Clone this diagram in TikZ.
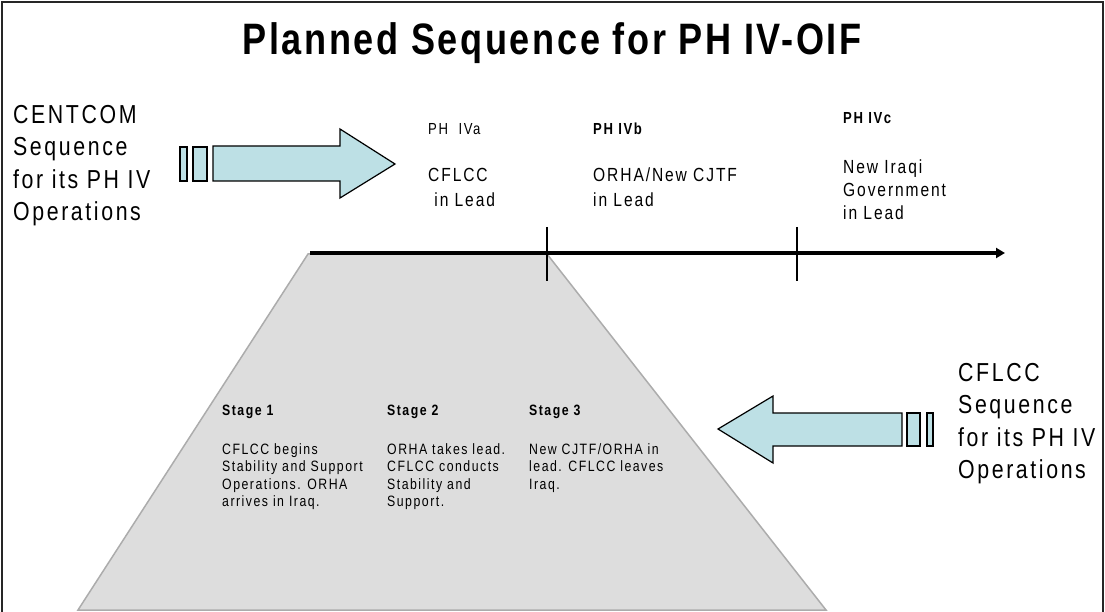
\documentclass[tikz,border=0pt]{standalone}
\usepackage{fontspec}
\usepackage{tikz}
\usetikzlibrary{arrows.meta, positioning}
\newfontfamily\narrowsf{Liberation Sans}[FakeStretch=0.82, LetterSpace=10]
\newfontfamily\titlesf{Liberation Sans}[FakeStretch=0.82, LetterSpace=6]
\definecolor{flowcolor}{RGB}{189,224,229}
\definecolor{stagecolor}{RGB}{221,221,221}
\definecolor{stageedge}{RGB}{172,172,172}

\begin{document}
\begin{tikzpicture}[
    x=1bp, y=-1bp,
    title/.style={inner sep=0pt, font=\titlesf\bfseries\fontsize{44bp}{50bp}\selectfont},
    side/.style={inner sep=0pt, anchor=north west, align=left, font=\narrowsf\fontsize{26bp}{32.5bp}\selectfont},
    phase/.style={inner sep=0pt, anchor=north west, align=left, font=\narrowsf\fontsize{16bp}{20bp}\selectfont},
    lead/.style={inner sep=0pt, anchor=north west, align=left, font=\narrowsf\fontsize{19bp}{25bp}\selectfont},
    stage/.style={inner sep=0pt, anchor=north west, align=left, font=\narrowsf\fontsize{15bp}{17.5bp}\selectfont},
    flow/.style={draw=black, line width=1.2bp, fill=flowcolor},
    timeline/.style={line width=3.5bp, -{Triangle[length=9bp, width=10bp]}},
    tick/.style={line width=1.4bp}
]
    \useasboundingbox (0,0) rectangle (1105,612);
    \draw[line width=2bp, black!85] (2,612) -- (2,2) -- (1103,2) -- (1103,612);

    \node[title] (head) at (552,43) {Planned Sequence for PH IV-OIF};

    % stage trapezoid
    \draw[stageedge, line width=1.5bp, fill=stagecolor] (308,254) -- (547,254) -- (826,610) -- (78,610) -- cycle;

    % timeline
    \coordinate (t0) at (310,253);
    \coordinate (t1) at (1005,253);
    \draw[timeline] (t0) -- (t1);
    \draw[tick] (547,227) -- (547,281);
    \draw[tick] (797,227) -- (797,281);

    % CENTCOM arrow
    \node[side] (centcom) at (13,105) {CENTCOM\\Sequence\\for its PH IV\\Operations};
    \draw[flow] (180,147) rectangle (187,181);
    \draw[flow] (193,147) rectangle (207,181);
    \draw[flow] (213,146) -- (340,146) -- (340,129) -- (395,164) -- (340,198) -- (340,181) -- (213,181) -- cycle;

    % CFLCC arrow
    \node[side] (cflcc) at (958,363) {CFLCC\\Sequence\\for its PH IV\\Operations};
    \draw[flow] (927,413) rectangle (933,446);
    \draw[flow] (907,413) rectangle (920,446);
    \draw[flow] (902,413) -- (773,413) -- (773,396) -- (718,429) -- (773,463) -- (773,446) -- (902,446) -- cycle;

    % phases
    \node[phase] (pha) at (428,123) {PH~~IVa};
    \node[phase] (phb) at (593,123) {\bfseries PH IVb};
    \node[phase] (phc) at (843,112) {\bfseries PH IVc};
    \node[lead] (leada) at (428,168) {CFLCC\\\ in Lead};
    \node[lead] (leadb) at (593,168) {ORHA/New CJTF\\in Lead};
    \node[lead, font=\narrowsf\fontsize{19bp}{23bp}\selectfont] (leadc) at (843,160) {New Iraqi\\Government\\in Lead};

    % stages
    \node[stage] (s1) at (222,405) {\bfseries Stage 1};
    \node[stage] (s2) at (387,405) {\bfseries Stage 2};
    \node[stage] (s3) at (529,405) {\bfseries Stage 3};
    \node[stage] (s1txt) at (222,443) {CFLCC begins\\Stability and Support\\Operations. ORHA\\arrives in Iraq.};
    \node[stage] (s2txt) at (387,443) {ORHA takes lead.\\CFLCC conducts\\Stability and\\Support.};
    \node[stage] (s3txt) at (529,443) {New CJTF/ORHA in\\lead. CFLCC leaves\\Iraq.};
\end{tikzpicture}
\end{document}
